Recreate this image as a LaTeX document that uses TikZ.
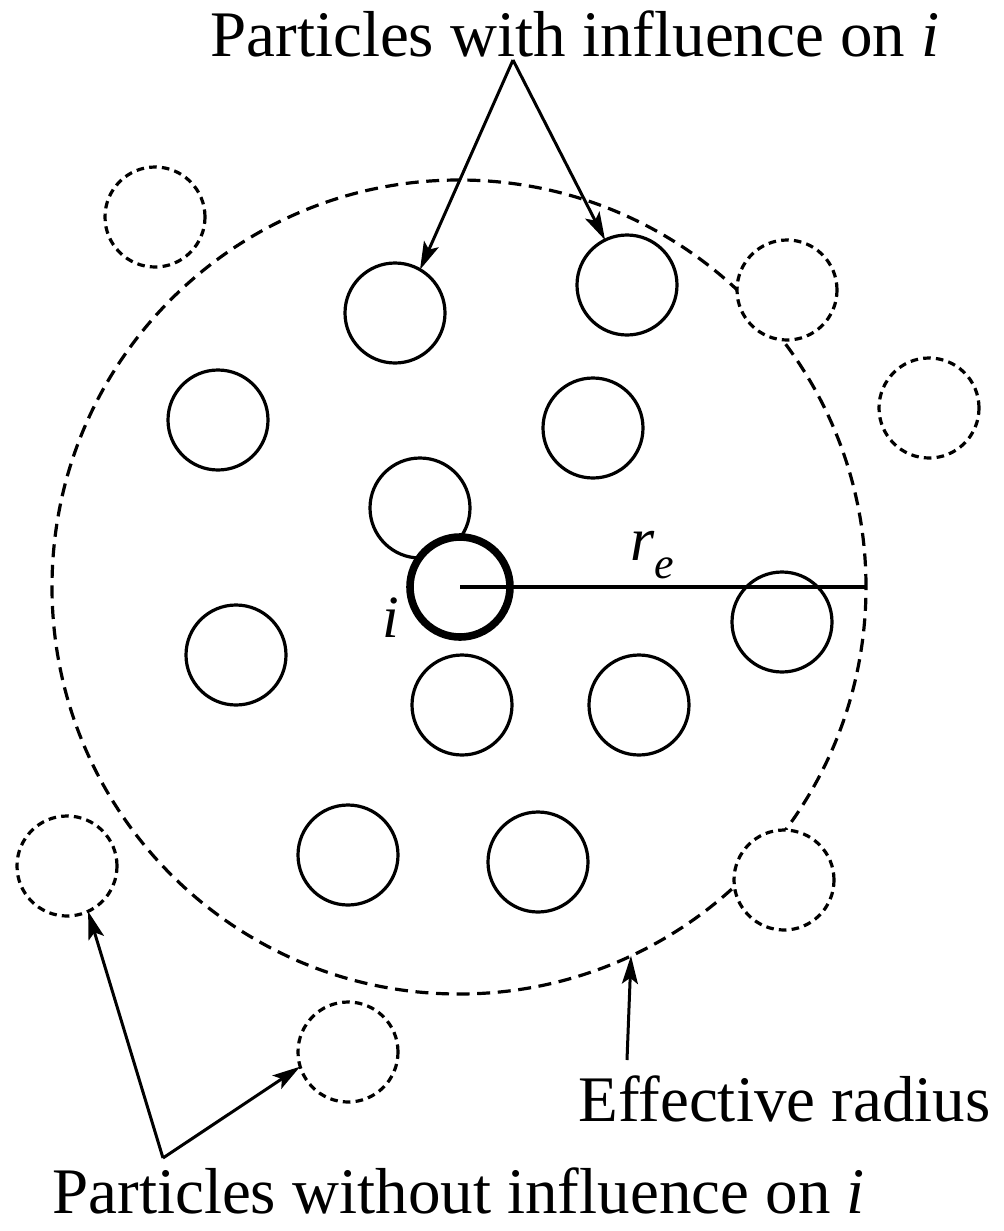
\documentclass[tikz,border=0pt]{standalone}
\usepackage{fontspec}
\setmainfont{Liberation Serif}
\usetikzlibrary{arrows.meta}
\begin{document}
\begin{tikzpicture}[x=0.5pt,y=-0.5pt,
  part/.style={circle,draw,fill=white,line width=1.6pt,minimum size=50pt,inner sep=0pt,outer sep=0pt},
  outpart/.style={circle,draw,fill=white,line width=1.6pt,dash pattern=on 3.8pt off 2.6pt,minimum size=50pt,inner sep=0pt,outer sep=0pt},
  big/.style={circle,draw,line width=1.6pt,dash pattern=on 6.5pt off 3.8pt,minimum size=407pt,inner sep=0pt,outer sep=0pt},
  me/.style={circle,draw,fill=white,line width=3.8pt,minimum size=50pt,inner sep=0pt,outer sep=0pt},
  lbl/.style={font=\fontsize{32.5pt}{38pt}\selectfont,inner sep=0pt},
  arr/.style={line width=1.5pt,-{Stealth[length=14pt,width=8pt,inset=3pt]}}]
\useasboundingbox (0,0) rectangle (1003,1231);
% effective radius circle
\node[big] (big) at (459,587) {};
% particles outside
\node[outpart] (o1) at (155,217) {};
\node[outpart] (o2) at (787,290) {};
\node[outpart] (o3) at (929,408) {};
\node[outpart] (o4) at (67,866) {};
\node[outpart] (o5) at (784,880) {};
\node[outpart] (o6) at (348,1052) {};
% particles inside
\node[part] (p1) at (395,313) {};
\node[part] (p2) at (627,285) {};
\node[part] (p3) at (218,420) {};
\node[part] (p4) at (593,428) {};
\node[part] (p5) at (420,508) {};
\node[part] (p7) at (236,655) {};
\node[part] (p8) at (782,622) {};
\node[part] (p9) at (462,705) {};
\node[part] (p10) at (639,705) {};
\node[part] (p11) at (348,855) {};
\node[part] (p12) at (538,862) {};
\node[me] (pi) at (460,587) {};
% radius line
\coordinate (ic) at (460,587);
\draw[line width=1.6pt] (ic) -- (big.east);
\node[lbl,anchor=base west] (re) at (630,560) {\fontsize{31pt}{36pt}\selectfont\itshape r\raisebox{-0.3em}{\fontsize{22pt}{24pt}\selectfont e}};
\node[lbl,anchor=base west] (il) at (382,637) {\fontsize{30pt}{36pt}\selectfont\itshape i};
% labels
\node[lbl,anchor=base west] (top) at (210,56) {Particles with influence on \textit{i}};
\node[lbl,anchor=base west] (bot) at (52,1213) {Particles without influence on \textit{i}};
\node[lbl,anchor=base west] (eff) at (578,1121) {Effective radius};
\coordinate (ta) at (513,60);
\coordinate (ba) at (163,1158);
\coordinate (ea) at (627,1060);
\draw[arr] (ta) -- (p1.60);
\draw[arr] (ta) -- (p2.116);
\draw[arr] (ba) -- (o4.-65);
\draw[arr] (ba) -- (o6.197);
\draw[arr] (ea) -- (big.-65.6);
\end{tikzpicture}
\end{document}
